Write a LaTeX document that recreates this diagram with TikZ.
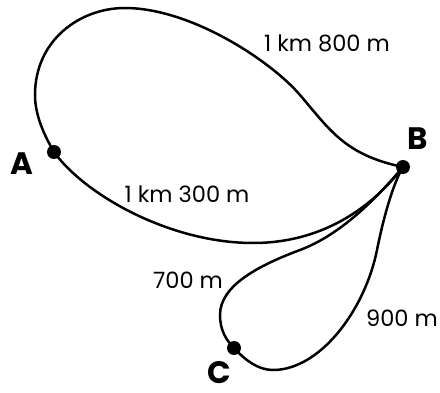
\documentclass[tikz,border=0pt]{standalone}
\usepackage{fontspec}
\setmainfont{Poppins}
\begin{document}
\begin{tikzpicture}[x=1pt,y=-1pt,
  route/.style={line width=2.5pt},
  dot/.style={circle,fill=black,inner sep=0pt,minimum size=14pt},
  dist/.style={inner sep=0pt,font=\fontsize{22.5}{24}\selectfont},
  place/.style={inner sep=0pt,font=\fontsize{31}{33}\selectfont\bfseries}]
\useasboundingbox (0,0) rectangle (440,393);
\coordinate (A) at (54,152);
\coordinate (B) at (403,167);
\coordinate (C) at (234,348);
% upper route A-B
\draw[route] (A) .. controls (44,135) and (35,115) .. (35,95)
  .. controls (35,40) and (80,8) .. (125,8)
  .. controls (190,8) and (270,60) .. (300,95)
  .. controls (330,130) and (345,155) .. (B);
% lower route A-B
\draw[route] (A) .. controls (85,195) and (170,243) .. (253,243)
  .. controls (320,243) and (370,210) .. (B);
% B-C via 700 m
\draw[route] (B) .. controls (375,200) and (340,235) .. (300,250)
  .. controls (260,265) and (220,285) .. (220,315)
  .. controls (220,330) and (226,340) .. (C);
% C-B via 900 m
\draw[route] (C) .. controls (245,360) and (258,370) .. (273,370)
  .. controls (320,370) and (365,310) .. (377,250)
  .. controls (385,210) and (395,180) .. (B);
\node[dot] (dA) at (A) {};
\node[dot] (dB) at (B) {};
\node[dot] (dC) at (C) {};
\node[place] (lA) at (22,164) {A};
\node[place] (lB) at (418,139) {B};
\node[place] (lC) at (219,373) {C};
\node[dist] (d1) at (327,43) {1 km 800 m};
\node[dist] (d2) at (187,194) {1 km 300 m};
\node[dist] (d3) at (188,280) {700 m};
\node[dist] (d4) at (402,318) {900 m};
\end{tikzpicture}
\end{document}
